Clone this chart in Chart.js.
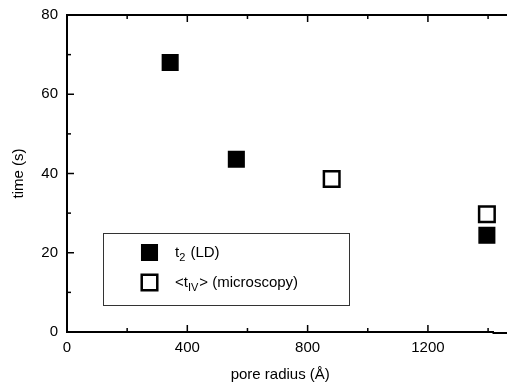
<!DOCTYPE html>
<html>
<head>
<meta charset="utf-8">
<script src="https://cdn.jsdelivr.net/npm/chart.js@4.4.0/dist/chart.umd.min.js"></script>
<style>
  html, body { margin: 0; padding: 0; background: #fff; overflow: hidden; }
  canvas { display: block; }
</style>
</head>
<body>
<canvas id="c" width="507" height="384" style="width:507px;height:384px"></canvas>
<script>
// ---- data ----
const radiusT2 = [343, 563, 1396];
const t2Values = [68.0, 43.6, 24.4];
const radiusTIV = [880, 1396];
const tIVValues = [38.6, 29.7];
const xTickValues = [0, 400, 800, 1200];
const yTickValues = [0, 20, 40, 60, 80];
const xMinorValues = [200, 600, 1000, 1400];
const yMinorValues = [10, 30, 50, 70];
const xTitle = 'pore radius (Å)';
const yTitle = 'time (s)';

const FONT = "'Liberation Sans', Arial, Helvetica, sans-serif";

const toPts = (xs, ys) => xs.map((x, i) => ({ x: x, y: ys[i] }));

const ticksPlugin = {
  id: 'frameTicks',
  afterDraw(chart) {
    const ctx = chart.ctx;
    const xs = chart.scales.x, ys = chart.scales.y;
    const a = chart.chartArea;
    ctx.save();
    ctx.strokeStyle = '#000';
    ctx.lineWidth = 2;
    // top frame line and bottom axis running to the right edge
    ctx.beginPath();
    ctx.moveTo(a.left - 1, a.top);
    ctx.lineTo(chart.width, a.top);
    ctx.moveTo(a.right - 1, a.bottom + 1);
    ctx.lineTo(chart.width, a.bottom + 1);
    ctx.stroke();
    ctx.lineWidth = 1.5;
    const drawX = (v, len) => {
      const p = xs.getPixelForValue(v);
      ctx.beginPath();
      ctx.moveTo(p, a.bottom); ctx.lineTo(p, a.bottom - len);
      ctx.moveTo(p, a.top); ctx.lineTo(p, a.top + len);
      ctx.stroke();
    };
    const drawY = (v, len) => {
      const p = ys.getPixelForValue(v);
      ctx.beginPath();
      ctx.moveTo(a.left, p); ctx.lineTo(a.left + len, p);
      ctx.stroke();
    };
    xTickValues.forEach(v => drawX(v, 7));
    xMinorValues.forEach(v => drawX(v, 4));
    yTickValues.forEach(v => drawY(v, 7));
    yMinorValues.forEach(v => drawY(v, 4));

    // legend box
    const lx = 103, ly = 233, lw = 246, lh = 72;
    ctx.lineWidth = 1;
    ctx.strokeStyle = '#333';
    ctx.strokeRect(lx + 0.5, ly + 0.5, lw, lh);
    // markers
    const ds = chart.data.datasets;
    const mx = 149.5;
    const rows = [252.5, 282.5];
    ds.forEach((d, i) => {
      ctx.fillStyle = d.backgroundColor;
      ctx.strokeStyle = d.borderColor;
      ctx.lineWidth = d.borderWidth;
      ctx.beginPath();
      const s = Math.SQRT1_2 * d.pointRadius;
      ctx.rect(mx - s, rows[i] - s, 2 * s, 2 * s);
      ctx.fill();
      ctx.stroke();
    });
    // legend text
    ctx.fillStyle = '#000';
    ctx.textBaseline = 'middle';
    ctx.textAlign = 'left';
    const big = '15px ' + FONT, small = '11px ' + FONT;
    let x = 175, y = rows[0];
    ctx.font = big; ctx.fillText('t', x, y); x += ctx.measureText('t').width;
    ctx.font = small; ctx.fillText('2', x, y + 5); x += ctx.measureText('2').width + 1;
    ctx.font = big; ctx.fillText(' (LD)', x, y);
    x = 175; y = rows[1];
    ctx.font = big; ctx.fillText('<t', x, y); x += ctx.measureText('<t').width;
    ctx.font = small; ctx.fillText('IV', x, y + 5); x += ctx.measureText('IV').width + 1;
    ctx.font = big; ctx.fillText('> (microscopy)', x, y);
    ctx.restore();
  }
};

new Chart(document.getElementById('c'), {
  type: 'scatter',
  data: {
    datasets: [
      {
        label: 't2 (LD)',
        data: toPts(radiusT2, t2Values),
        clip: false,
        pointStyle: 'rect',
        pointRadius: 11,
        pointHoverRadius: 11,
        backgroundColor: '#000',
        borderColor: '#000',
        borderWidth: 1.5
      },
      {
        label: '<tIV> (microscopy)',
        data: toPts(radiusTIV, tIVValues),
        clip: false,
        pointStyle: 'rect',
        pointRadius: 11,
        pointHoverRadius: 11,
        backgroundColor: '#fff',
        borderColor: '#000',
        borderWidth: 2.5
      }
    ]
  },
  options: {
    responsive: false,
    animation: false,
    devicePixelRatio: 1,
    layout: { padding: { top: 15, right: 0, left: 0, bottom: 0 } },
    plugins: { legend: { display: false }, tooltip: { enabled: false } },
    scales: {
      x: {
        type: 'linear',
        min: 0,
        max: 1418,
        afterFit(s) { s.height = 52; s.paddingRight = 0; s.paddingLeft = 0; },
        afterBuildTicks(s) { s.ticks = xTickValues.map(v => ({ value: v })); },
        grid: { display: false, drawTicks: false },
        border: { display: true, color: '#000', width: 2 },
        ticks: {
          padding: 7, color: '#000', font: { family: FONT, size: 15 },
          callback: v => String(v)
        },
        title: {
          display: true, text: xTitle, color: '#000',
          font: { family: FONT, size: 15 }, padding: { top: 10, bottom: 0 }
        }
      },
      y: {
        type: 'linear',
        min: 0,
        max: 80,
        afterFit(s) { s.width = 67; s.paddingTop = 0; s.paddingBottom = 0; },
        afterBuildTicks(s) { s.ticks = yTickValues.map(v => ({ value: v })); },
        grid: { display: false, drawTicks: false },
        border: { display: true, color: '#000', width: 2 },
        ticks: { padding: 9, color: '#000', font: { family: FONT, size: 15 } },
        title: {
          display: true, text: yTitle, color: '#000',
          font: { family: FONT, size: 15 }, padding: { top: 10, bottom: 0 }
        }
      }
    }
  },
  plugins: [ticksPlugin]
});
</script>
</body>
</html>
